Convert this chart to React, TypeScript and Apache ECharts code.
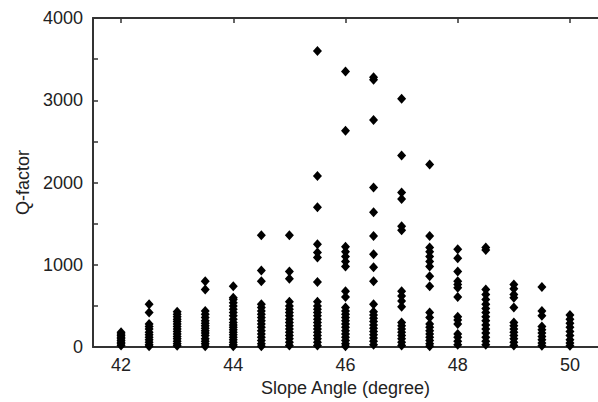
import React, { useEffect, useRef } from "react";
import * as echarts from "echarts";

const angles = [42, 42.5, 43, 43.5, 44, 44.5, 45, 45.5, 46, 46.5, 47, 47.5, 48, 48.5, 49, 49.5, 50];

const q42 = [20, 40, 60, 80, 100, 120, 140, 160, 180];
const q42_5 = [10, 30, 60, 90, 120, 150, 180, 220, 250, 280, 420, 520];
const q43 = [15, 40, 70, 100, 130, 160, 190, 220, 250, 280, 310, 340, 370, 400, 430];
const q43_5 = [10, 40, 70, 100, 140, 170, 200, 230, 260, 290, 320, 360, 400, 440, 700, 800];
const q44 = [10, 30, 60, 90, 120, 150, 180, 210, 240, 270, 300, 340, 380, 420, 460, 500, 540, 580, 600, 740];
const q44_5 = [10, 40, 80, 120, 160, 200, 240, 280, 320, 360, 400, 440, 480, 520, 800, 930, 1360];
const q45 = [20, 60, 100, 140, 180, 220, 260, 300, 340, 380, 420, 460, 500, 550, 830, 920, 1360];
const q45_5 = [20, 60, 100, 140, 180, 220, 260, 300, 340, 380, 420, 460, 500, 550, 790, 1090, 1150, 1250, 1700, 2080, 3600];
const q46 = [10, 40, 80, 120, 160, 200, 240, 280, 320, 360, 400, 440, 480, 610, 680, 980, 1040, 1100, 1160, 1220, 2630, 3350];
const q46_5 = [30, 70, 110, 150, 190, 230, 270, 310, 350, 390, 430, 520, 800, 970, 1130, 1350, 1640, 1940, 2760, 3250, 3280];
const q47 = [20, 60, 100, 140, 180, 220, 260, 300, 490, 560, 620, 680, 1420, 1470, 1800, 1880, 2330, 3020];
const q47_5 = [10, 40, 80, 120, 160, 200, 240, 280, 360, 420, 740, 860, 980, 1040, 1100, 1160, 1210, 1350, 2220];
const q48 = [30, 70, 120, 160, 280, 330, 370, 610, 720, 760, 800, 920, 1080, 1190];
const q48_5 = [30, 70, 120, 170, 220, 270, 320, 370, 420, 470, 520, 580, 640, 700, 1180, 1210];
const q49 = [20, 60, 100, 140, 180, 220, 260, 300, 480, 600, 640, 710, 760];
const q49_5 = [15, 50, 90, 130, 170, 210, 250, 380, 440, 730];
const q50 = [15, 50, 90, 140, 190, 240, 290, 340, 390];

const qByAngle = [q42, q42_5, q43, q43_5, q44, q44_5, q45, q45_5, q46, q46_5, q47, q47_5, q48, q48_5, q49, q49_5, q50];

const xTicks = [42, 44, 46, 48, 50];
const yTicks = [0, 500, 1000, 1500, 2000, 2500, 3000, 3500, 4000];
const yLabels = [0, 1000, 2000, 3000, 4000];

export default function App() {
  const ref = useRef<HTMLDivElement>(null);
  useEffect(() => {
    if (!ref.current) return;
    const chart = echarts.init(ref.current, undefined, { renderer: "svg" });
    const points: number[][] = [];
    angles.forEach((a, i) => qByAngle[i].forEach((v) => points.push([a, v])));
    const font = "Liberation Sans, Arial, Helvetica, sans-serif";
    const axisLine = { show: true, lineStyle: { color: "#333", width: 2 } };
    const plain = (v: number) => String(v);
    chart.setOption({
      animation: false,
      backgroundColor: "#fff",
      grid: { left: 93, top: 18, right: -4, bottom: 54, containLabel: false },
      xAxis: [
        {
          type: "value",
          min: 41.5,
          max: 50.5,
          interval: 0.5,
          position: "bottom",
          axisLine,
          splitLine: { show: false },
          axisTick: { show: true, inside: true, length: 5, customValues: xTicks, lineStyle: { color: "#333", width: 1.5 } },
          axisLabel: { customValues: xTicks, formatter: plain, color: "#222", fontSize: 18, fontFamily: font, margin: 9 },
          name: "Slope Angle (degree)",
          nameLocation: "middle",
          nameGap: 31,
          nameTextStyle: { color: "#222", fontSize: 18, fontFamily: font },
        },
        {
          type: "value",
          min: 41.5,
          max: 50.5,
          interval: 0.5,
          position: "top",
          axisLine,
          splitLine: { show: false },
          axisTick: { show: true, inside: true, length: 5, customValues: xTicks, lineStyle: { color: "#333", width: 1.5 } },
          axisLabel: { show: false },
        },
      ],
      yAxis: {
        type: "value",
        min: 0,
        max: 4000,
        interval: 500,
        axisLine,
        splitLine: { show: false },
        axisTick: { show: true, inside: true, length: 5, customValues: yTicks, lineStyle: { color: "#333", width: 1.5 } },
        axisLabel: { customValues: yLabels, formatter: plain, color: "#222", fontSize: 18, fontFamily: font, margin: 10 },
        name: "Q-factor",
        nameLocation: "middle",
        nameGap: 60,
        nameTextStyle: { color: "#222", fontSize: 18, fontFamily: font },
      },
      series: [
        {
          type: "scatter",
          xAxisIndex: 0,
          data: points,
          symbol: "diamond",
          symbolSize: [9, 10],
          itemStyle: { color: "#000", opacity: 1 },
        },
      ],
    });
    return () => chart.dispose();
  }, []);
  return <div ref={ref} style={{ position: "fixed", left: 0, top: 0, width: 598, height: 402, background: "#fff" }} />;
}
